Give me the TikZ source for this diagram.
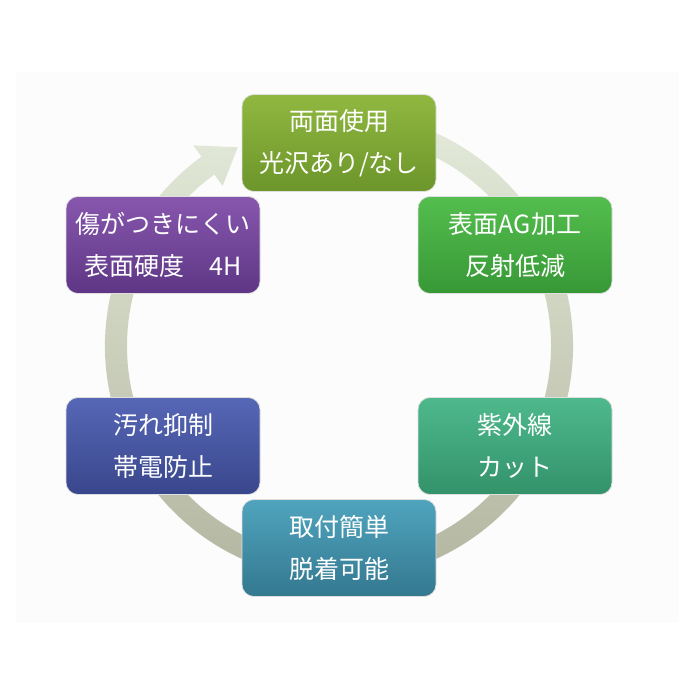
\documentclass[tikz,border=0pt]{standalone}
\usepackage{fontspec}
\setmainfont{Noto Sans CJK JP}
\usepackage{xcolor}
\definecolor{pagegrey}{HTML}{FCFCFC}
\definecolor{ringtop}{HTML}{E2E9D8}
\definecolor{ringbot}{HTML}{B0B29C}
\definecolor{doubletop}{HTML}{90B840}
\definecolor{doublebot}{HTML}{6C952B}
\definecolor{agtop}{HTML}{54BE4E}
\definecolor{agbot}{HTML}{379836}
\definecolor{uvtop}{HTML}{4EB98C}
\definecolor{uvbot}{HTML}{33926A}
\definecolor{mounttop}{HTML}{50A4BE}
\definecolor{mountbot}{HTML}{33788F}
\definecolor{statictop}{HTML}{5667B6}
\definecolor{staticbot}{HTML}{39468C}
\definecolor{hardtop}{HTML}{8757AE}
\definecolor{hardbot}{HTML}{5E3685}
\newcommand{\boxfont}{\fontsize{25}{42}\selectfont}

\begin{document}
\begin{tikzpicture}[
  x=1pt,
  y=1pt,
  box/.style={rounded corners=12pt, minimum width=194, minimum height=97,
    inner sep=0pt, align=center, text=white, font=\boxfont,
    draw=white!75!gray, line width=0.7pt},
  ring/.style={top color=ringtop, bottom color=ringbot}
]
  % ---- page and faint panel --------------------------------------------
  \useasboundingbox (0,0) rectangle (694,694);
  \fill[white] (0,0) rectangle (694,694);
  \fill[pagegrey] (16,71) rectangle (679,622);

  % ---- the cycle arrow, clockwise, head at the upper left ----------------
  \coordinate (hub) at (339,348);
  \shade[ring]
    ([shift={(70:234)}]hub) arc[start angle=70, end angle=-234, radius=234]
    -- ([shift={(-234:248)}]hub)
    -- ([shift={(-243:223)}]hub)
    -- ([shift={(-234:198)}]hub)
    -- ([shift={(-234:212)}]hub) arc[start angle=-234, end angle=70, radius=212]
    -- cycle;

  % ---- the six boxes, clockwise from the top ----------------------------
  \node[box, top color=doubletop, bottom color=doublebot]
    (double) at (339,551) {両面使用\\光沢あり/なし};
  \node[box, top color=agtop, bottom color=agbot]
    (antiglare) at (515,449) {表面AG加工\\反射低減};
  \node[box, top color=uvtop, bottom color=uvbot]
    (uvcut) at (515,248) {紫外線\\カット};
  \node[box, top color=mounttop, bottom color=mountbot]
    (mount) at (339,146) {取付簡単\\脱着可能};
  \node[box, top color=statictop, bottom color=staticbot]
    (antistatic) at (163,248) {汚れ抑制\\帯電防止};
  \node[box, top color=hardtop, bottom color=hardbot]
    (hardness) at (163,449) {傷がつきにくい\\表面硬度\quad 4H};

\end{tikzpicture}
\end{document}
